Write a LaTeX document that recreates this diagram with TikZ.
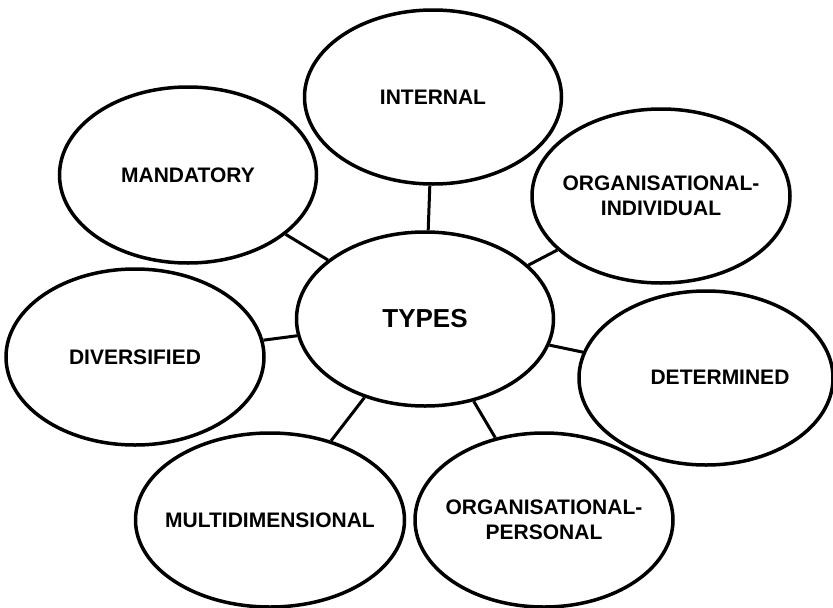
\documentclass[tikz,border=0pt]{standalone}
\usepackage{fontspec}
\setmainfont{Liberation Sans}
\usetikzlibrary{shapes.geometric}
\begin{document}
\begin{tikzpicture}[x=1pt,y=-1pt,
  bubble/.style={draw=black, line width=3.5pt, ellipse, inner sep=0pt,
    minimum width=257pt, minimum height=174pt},
  txt/.style={inner sep=0pt, align=center, font=\bfseries\fontsize{21}{25}\selectfont},
  link/.style={draw=black, line width=3pt}]
\useasboundingbox[fill=white] (0,0) rectangle (833,608);
\node[bubble] (types) at (425,319) {};
\node[bubble] (internal) at (433,97) {};
\node[bubble, minimum height=176pt] (mand) at (188,175) {};
\node[bubble, minimum width=258pt] (orgind) at (661,196) {};
\node[bubble, minimum width=258pt, minimum height=176pt] (div) at (135,357) {};
\node[bubble, minimum width=254pt] (det) at (706,378) {};
\node[bubble, minimum width=269pt] (multi) at (270,520) {};
\node[bubble, minimum width=258pt] (orgpers) at (544,520) {};
\node[txt, font=\bfseries\fontsize{26}{30}\selectfont] (typest) at (425,319) {TYPES};
\node[txt] (internalt) at (internal) {INTERNAL};
\node[txt] (mandt) at (mand) {MANDATORY};
\node[txt] (orgindt) at (orgind) {ORGANISATIONAL-\\INDIVIDUAL};
\node[txt] (divt) at (div) {DIVERSIFIED};
\node[txt] (dett) at (720,377) {DETERMINED};
\node[txt] (multit) at (multi) {MULTIDIMENSIONAL};
\node[txt] (orgperst) at (orgpers) {ORGANISATIONAL-\\PERSONAL};
\foreach \n in {internal,mand,orgind,div,det,multi,orgpers}
  \draw[link] (types) -- (\n);
\end{tikzpicture}
\end{document}
